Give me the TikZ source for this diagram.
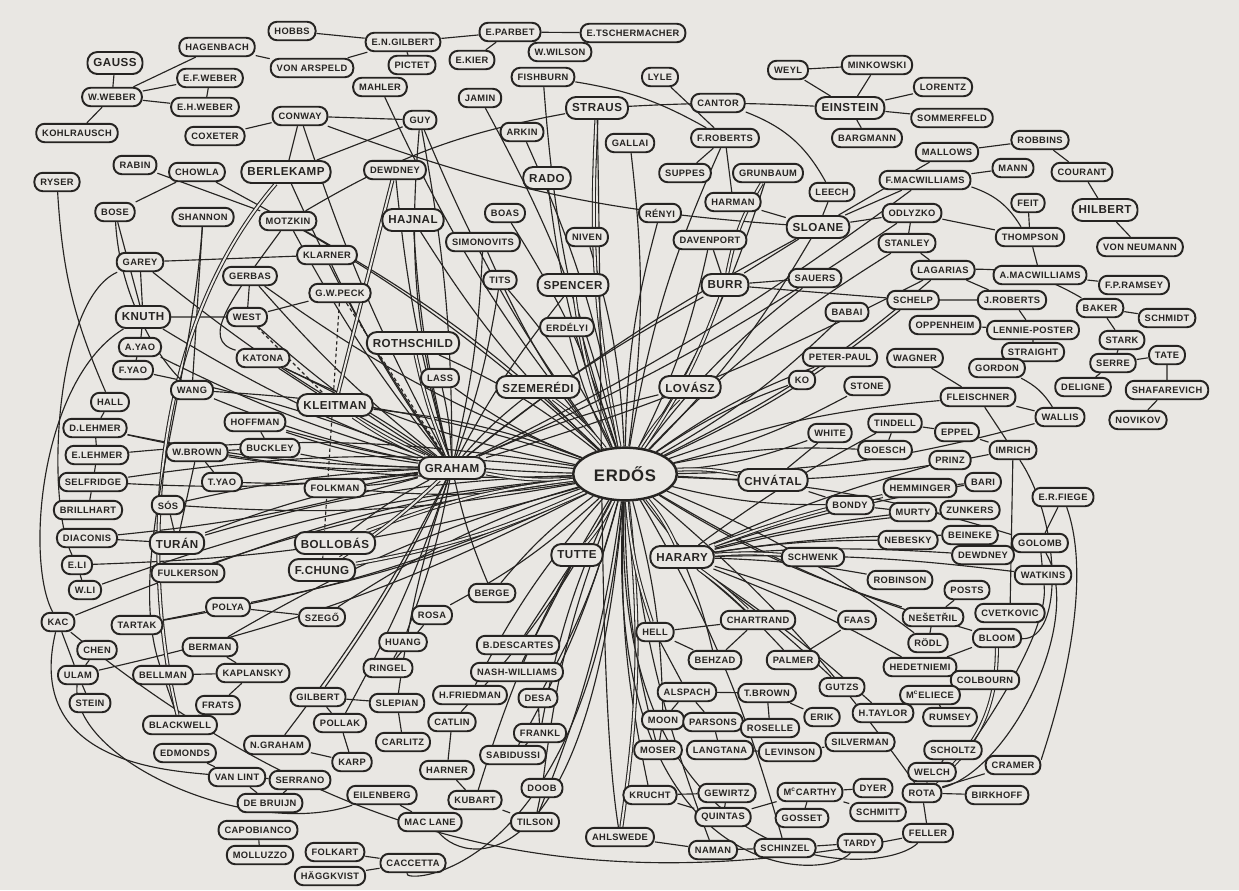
\documentclass[tikz,border=0pt]{standalone}
\usepackage{fontspec}
\newfontfamily\handfont[LetterSpace=4.0]{Liberation Sans}
\usetikzlibrary{shapes.geometric, backgrounds}

\definecolor{paper}{RGB}{233,231,227}
\definecolor{ink}{RGB}{38,36,34}

\tikzset{
  pn/.style={rectangle, rounded corners=4.8pt, draw=ink, line width=1.1pt, fill=paper, text=ink,
    font=\handfont\bfseries\fontsize{5.3}{6}\selectfont, inner xsep=3.4pt, inner ysep=2pt, minimum height=10.5pt},
  pb/.style={pn, rounded corners=5.6pt, font=\handfont\bfseries\fontsize{6.6}{7.5}\selectfont, minimum height=12.5pt},
  hub/.style={ellipse, draw=ink, line width=1.4pt, fill=paper, text=ink, inner sep=0pt,
    font=\handfont\bfseries\fontsize{9.5}{11}\selectfont, minimum width=59pt, minimum height=30pt},
  edge/.style={draw=ink, line width=0.65pt},
  bundle/.style={draw=ink, line width=0.6pt, double=paper, double distance=1.1pt},
  faint/.style={edge, dash pattern=on 2pt off 1.6pt},
}

\begin{document}
\begin{tikzpicture}[x=0.02cm, y=-0.02cm]
  \useasboundingbox (0,0) rectangle (1239,890);

  % Gauss -- Weber corner
  \node[pb] (gauss) at (115,63) {GAUSS};
  \node[pn] (wweber) at (112,97) {W.WEBER};
  \node[pn] (kohl) at (77,133) {KOHLRAUSCH};
  \node[pn] (hagen) at (217,47) {HAGENBACH};
  \node[pn] (efweber) at (210,78) {E.F.WEBER};
  \node[pn] (ehweber) at (205,107) {E.H.WEBER};
  \node[pn] (hobbs) at (292,31) {HOBBS};
  \node[pn] (vonarn) at (312,68) {VON ARSPELD};
  \node[pn] (engilbert) at (403,42) {E.N.GILBERT};
  \node[pn] (pictet) at (412,65) {PICTET};
  \node[pn] (ekier) at (472,60) {E.KIER};
  \node[pn] (parbet) at (510,32) {E.PARBET};
  \node[pn] (wwilson) at (560,52) {W.WILSON};
  \node[pn] (tscher) at (633,33) {E.TSCHERMACHER};

  % top middle
  \node[pn] (fishburn) at (543,77) {FISHBURN};
  \node[pn] (mahler) at (380,87) {MAHLER};
  \node[pn] (jamin) at (480,98) {JAMIN};
  \node[pn] (conway) at (300,116) {CONWAY};
  \node[pn] (guy) at (420,120) {GUY};
  \node[pb] (straus) at (597,108) {STRAUS};
  \node[pn] (arkin) at (522,132) {ARKIN};
  \node[pn] (coxeter) at (215,136) {COXETER};
  \node[pn] (rabin) at (135,165) {RABIN};
  \node[pn] (chowla) at (197,172) {CHOWLA};
  \node[pb] (berlekamp) at (286,172) {BERLEKAMP};
  \node[pn] (ryser) at (57,182) {RYSER};
  \node[pn] (bose) at (115,212) {BOSE};
  \node[pn] (shannon) at (203,217) {SHANNON};
  \node[pn] (motzkin) at (288,221) {MOTZKIN};
  \node[pn] (dewtop) at (395,170) {DEWDNEY};
  \node[pb] (rado) at (547,178) {RADO};
  \node[pn] (boas) at (505,213) {BOAS};
  \node[pb] (hajnal) at (413,220) {HAJNAL};
  \node[pn] (niven) at (587,237) {NIVEN};
  \node[pn] (simonovits) at (483,242) {SIMONOVITS};
  \node[pn] (klarner) at (327,255) {KLARNER};
  \node[pn] (tits) at (500,280) {TITS};
  \node[pb] (spencer) at (573,285) {SPENCER};
  \node[pn] (gwpeck) at (340,293) {G.W.PECK};
  \node[pn] (garey) at (140,262) {GAREY};
  \node[pn] (gerbas) at (250,276) {GERBAS};

  % top right
  \node[pn] (lyle) at (660,77) {LYLE};
  \node[pn] (cantor) at (718,103) {CANTOR};
  \node[pn] (weyl) at (788,70) {WEYL};
  \node[pn] (minkowski) at (877,65) {MINKOWSKI};
  \node[pb] (einstein) at (850,108) {EINSTEIN};
  \node[pn] (lorentz) at (943,87) {LORENTZ};
  \node[pn] (sommerfeld) at (952,118) {SOMMERFELD};
  \node[pn] (bargmann) at (867,138) {BARGMANN};
  \node[pn] (froberts) at (725,138) {F.ROBERTS};
  \node[pn] (gallai) at (630,143) {GALLAI};
  \node[pn] (suppes) at (685,173) {SUPPES};
  \node[pn] (grunbaum) at (768,173) {GRUNBAUM};
  \node[pn] (leech) at (832,192) {LEECH};
  \node[pn] (harman) at (733,202) {HARMAN};
  \node[pn] (renyi) at (660,213) {RÉNYI};
  \node[pb] (sloane) at (818,227) {SLOANE};
  \node[pn] (davenport) at (710,240) {DAVENPORT};
  \node[pb] (burr) at (725,285) {BURR};
  \node[pn] (sauers) at (815,278) {SAUERS};
  \node[pn] (fmacw) at (925,180) {F.MACWILLIAMS};
  \node[pn] (odlyzko) at (912,213) {ODLYZKO};
  \node[pn] (stanley) at (907,243) {STANLEY};
  \node[pn] (mallows) at (947,152) {MALLOWS};
  \node[pn] (robbins) at (1040,140) {ROBBINS};
  \node[pn] (mann) at (1013,168) {MANN};
  \node[pn] (courant) at (1082,172) {COURANT};
  \node[pn] (feit) at (1028,203) {FEIT};
  \node[pb] (hilbert) at (1105,210) {HILBERT};
  \node[pn] (thompson) at (1030,237) {THOMPSON};
  \node[pn] (vonneumann) at (1140,247) {VON NEUMANN};
  \node[pn] (lagarias) at (943,270) {LAGARIAS};
  \node[pn] (amacw) at (1040,275) {A.MACWILLIAMS};
  \node[pn] (fpramsey) at (1134,285) {F.P.RAMSEY};

  % left side
  \node[pb] (knuth) at (143,317) {KNUTH};
  \node[pn] (west) at (247,317) {WEST};
  \node[pn] (ayao) at (140,347) {A.YAO};
  \node[pn] (fyao) at (133,370) {F.YAO};
  \node[pn] (katona) at (263,358) {KATONA};
  \node[pn] (wang) at (192,390) {WANG};
  \node[pn] (hall) at (110,402) {HALL};
  \node[pn] (dlehmer) at (95,428) {D.LEHMER};
  \node[pn] (hoffman) at (255,422) {HOFFMAN};
  \node[pn] (elehmer) at (97,455) {E.LEHMER};
  \node[pn] (wbrown) at (197,452) {W.BROWN};
  \node[pn] (buckley) at (270,448) {BUCKLEY};
  \node[pn] (selfridge) at (93,482) {SELFRIDGE};
  \node[pn] (tyao) at (222,482) {T.YAO};
  \node[pn] (sos) at (168,505) {SÓS};
  \node[pn] (brillhart) at (88,510) {BRILLHART};
  \node[pn] (diaconis) at (87,538) {DIACONIS};
  \node[pb] (turan) at (177,543) {TURÁN};
  \node[pn] (eli) at (77,565) {E.LI};
  \node[pn] (fulkerson) at (188,573) {FULKERSON};

  % centre
  \node[pn] (erdelyi) at (567,327) {ERDÉLYI};
  \node[pb] (rothschild) at (413,343) {ROTHSCHILD};
  \node[pn] (lass) at (440,378) {LASS};
  \node[pb] (szemeredi) at (538,387) {SZEMERÉDI};
  \node[pb] (kleitman) at (335,405) {KLEITMAN};
  \node[pb] (graham) at (452,468) {GRAHAM};
  \node[hub] (erdos) at (625,474) {ERDŐS};
  \node[pn] (folkman) at (335,488) {FOLKMAN};
  \node[pb] (bollobas) at (335,543) {BOLLOBÁS};
  \node[pb] (tutte) at (577,555) {TUTTE};
  \node[pb] (fchung) at (322,570) {F.CHUNG};

  % right of Erdos
  \node[pn] (babai) at (847,312) {BABAI};
  \node[pn] (peter) at (840,357) {PETER-PAUL};
  \node[pn] (ko) at (802,380) {KO};
  \node[pn] (stone) at (867,386) {STONE};
  \node[pb] (lovasz) at (690,387) {LOVÁSZ};
  \node[pn] (white) at (830,433) {WHITE};
  \node[pn] (tindell) at (895,423) {TINDELL};
  \node[pn] (boesch) at (885,450) {BOESCH};
  \node[pb] (chvatal) at (773,480) {CHVÁTAL};
  \node[pn] (bondy) at (850,505) {BONDY};
  \node[pn] (hemminger) at (920,488) {HEMMINGER};
  \node[pn] (murty) at (913,512) {MURTY};
  \node[pn] (nebesky) at (908,540) {NEBESKY};
  \node[pb] (harary) at (682,557) {HARARY};
  \node[pn] (schwenk) at (813,557) {SCHWENK};
  \node[pn] (robinson) at (900,580) {ROBINSON};

  % far right
  \node[pn] (schelp) at (913,300) {SCHELP};
  \node[pn] (jroberts) at (1012,300) {J.ROBERTS};
  \node[pn] (baker) at (1100,308) {BAKER};
  \node[pn] (schmidt) at (1167,318) {SCHMIDT};
  \node[pn] (oppenheim) at (945,325) {OPPENHEIM};
  \node[pn] (lennie) at (1033,330) {LENNIE-POSTER};
  \node[pn] (stark) at (1122,340) {STARK};
  \node[pn] (straight) at (1033,352) {STRAIGHT};
  \node[pn] (tate) at (1167,355) {TATE};
  \node[pn] (wagner) at (915,358) {WAGNER};
  \node[pn] (serre) at (1113,363) {SERRE};
  \node[pn] (gordon) at (997,368) {GORDON};
  \node[pn] (deligne) at (1083,387) {DELIGNE};
  \node[pn] (shafarevich) at (1167,390) {SHAFAREVICH};
  \node[pn] (fleischner) at (978,397) {FLEISCHNER};
  \node[pn] (wallis) at (1060,417) {WALLIS};
  \node[pn] (novikov) at (1138,420) {NOVIKOV};
  \node[pn] (eppel) at (957,432) {EPPEL};
  \node[pn] (imrich) at (1013,450) {IMRICH};
  \node[pn] (prinz) at (950,460) {PRINZ};
  \node[pn] (bari) at (983,482) {BARI};
  \node[pn] (efiege) at (1063,497) {E.R.FIEGE};
  \node[pn] (zunkers) at (970,510) {ZUNKERS};
  \node[pn] (beineke) at (970,535) {BEINEKE};
  \node[pn] (golomb) at (1040,543) {GOLOMB};
  \node[pn] (dewdney) at (983,555) {DEWDNEY};
  \node[pn] (watkins) at (1043,575) {WATKINS};

  % lower left
  \node[pn] (wli) at (85,590) {W.LI};
  \node[pn] (polya) at (228,607) {POLYA};
  \node[pn] (kac) at (58,622) {KAC};
  \node[pn] (tartak) at (137,625) {TARTAK};
  \node[pn] (chen) at (97,650) {CHEN};
  \node[pn] (berman) at (210,647) {BERMAN};
  \node[pn] (ulam) at (78,675) {ULAM};
  \node[pn] (bellman) at (163,675) {BELLMAN};
  \node[pn] (kaplansky) at (253,673) {KAPLANSKY};
  \node[pn] (stein) at (90,703) {STEIN};
  \node[pn] (frats) at (218,705) {FRATS};
  \node[pn] (blackwell) at (180,725) {BLACKWELL};
  \node[pn] (ngraham) at (277,745) {N.GRAHAM};
  \node[pn] (edmonds) at (185,753) {EDMONDS};
  \node[pn] (vanlint) at (237,777) {VAN LINT};
  \node[pn] (serrano) at (300,780) {SERRANO};
  \node[pn] (debruijn) at (270,803) {DE BRUIJN};
  \node[pn] (capobianco) at (258,830) {CAPOBIANCO};
  \node[pn] (molluzzo) at (260,855) {MOLLUZZO};

  % lower middle
  \node[pn] (berge) at (492,593) {BERGE};
  \node[pn] (szego) at (322,617) {SZEGŐ};
  \node[pn] (rosa) at (432,615) {ROSA};
  \node[pn] (huang) at (403,642) {HUANG};
  \node[pn] (bdescartes) at (518,645) {B.DESCARTES};
  \node[pn] (ringel) at (388,668) {RINGEL};
  \node[pn] (nashwilliams) at (517,672) {NASH-WILLIAMS};
  \node[pn] (gilbert) at (318,697) {GILBERT};
  \node[pn] (slepian) at (397,703) {SLEPIAN};
  \node[pn] (hfriedman) at (470,695) {H.FRIEDMAN};
  \node[pn] (desa) at (538,698) {DESA};
  \node[pn] (pollak) at (340,723) {POLLAK};
  \node[pn] (catlin) at (452,722) {CATLIN};
  \node[pn] (frankl) at (540,733) {FRANKL};
  \node[pn] (carlitz) at (403,742) {CARLITZ};
  \node[pn] (sabidussi) at (513,755) {SABIDUSSI};
  \node[pn] (karp) at (352,762) {KARP};
  \node[pn] (harner) at (447,770) {HARNER};
  \node[pn] (doob) at (542,788) {DOOB};
  \node[pn] (eilenberg) at (382,795) {EILENBERG};
  \node[pn] (kubart) at (475,800) {KUBART};
  \node[pn] (maclane) at (430,822) {MAC LANE};
  \node[pn] (tilson) at (535,822) {TILSON};
  \node[pn] (folkart) at (335,852) {FOLKART};
  \node[pn] (caccetta) at (413,863) {CACCETTA};
  \node[pn] (haggkvist) at (330,876) {HÄGGKVIST};

  % lower right
  \node[pn] (chartrand) at (758,620) {CHARTRAND};
  \node[pn] (faas) at (857,620) {FAAS};
  \node[pn] (hell) at (655,632) {HELL};
  \node[pn] (behzad) at (715,660) {BEHZAD};
  \node[pn] (palmer) at (793,660) {PALMER};
  \node[pn] (alspach) at (687,692) {ALSPACH};
  \node[pn] (tbrown) at (767,693) {T.BROWN};
  \node[pn] (gutzs) at (842,687) {GUTZS};
  \node[pn] (moon) at (663,720) {MOON};
  \node[pn] (parsons) at (713,722) {PARSONS};
  \node[pn] (erik) at (822,717) {ERIK};
  \node[pn] (htaylor) at (883,713) {H.TAYLOR};
  \node[pn] (roselle) at (770,728) {ROSELLE};
  \node[pn] (moser) at (658,750) {MOSER};
  \node[pn] (langtana) at (720,750) {LANGTANA};
  \node[pn] (levinson) at (790,752) {LEVINSON};
  \node[pn] (silverman) at (860,742) {SILVERMAN};
  \node[pn] (krucht) at (650,795) {KRUCHT};
  \node[pn] (gewirtz) at (727,793) {GEWIRTZ};
  \node[pn] (mccarthy) at (810,792) {M\textsuperscript{c}CARTHY};
  \node[pn] (dyer) at (873,788) {DYER};
  \node[pn] (quintas) at (723,817) {QUINTAS};
  \node[pn] (gosset) at (802,818) {GOSSET};
  \node[pn] (schmitt) at (878,812) {SCHMITT};
  \node[pn] (ahlswede) at (620,837) {AHLSWEDE};
  \node[pn] (naman) at (713,850) {NAMAN};
  \node[pn] (schinzel) at (785,848) {SCHINZEL};
  \node[pn] (tardy) at (860,843) {TARDY};
  \node[pn] (posts) at (967,590) {POSTS};
  \node[pn] (cvetkovic) at (1010,613) {CVETKOVIC};
  \node[pn] (nesetril) at (933,617) {NEŠETŘIL};
  \node[pn] (bloom) at (997,638) {BLOOM};
  \node[pn] (rodl) at (928,643) {RÖDL};
  \node[pn] (hedetniemi) at (920,667) {HEDETNIEMI};
  \node[pn] (colbourn) at (985,680) {COLBOURN};
  \node[pn] (mceliece) at (930,695) {M\textsuperscript{c}ELIECE};
  \node[pn] (rumsey) at (950,717) {RUMSEY};
  \node[pn] (scholtz) at (953,750) {SCHOLTZ};
  \node[pn] (welch) at (932,772) {WELCH};
  \node[pn] (cramer) at (1013,765) {CRAMER};
  \node[pn] (rota) at (922,793) {ROTA};
  \node[pn] (birkhoff) at (997,795) {BIRKHOFF};
  \node[pn] (feller) at (928,833) {FELLER};

  \begin{scope}[on background layer]
    \fill[paper] (0,0) rectangle (1239,890);

    % Erdos fan
    \foreach \b in {straus, renyi, rado, spencer, simonovits, hajnal, mahler, erdelyi,
        lovasz, sauers, ko, peter, froberts, guy, graham, lass, folkman, fchung, sos,
        ulam, dlehmer, hoffman, katona, polya, tartak, eli, tutte, rosa, desa, sabidussi,
        tilson, ahlswede, schinzel, moon, harary, catlin, chvatal, fleischner, rodl,
        boesch, rota, golomb, stanley, gerbas, fishburn}
      \draw[edge] (erdos) to[bend left=7] (\b);
    \foreach \b in {gallai, davenport, niven, boas, tits, arkin, chowla, szemeredi,
        burr, babai, schelp, stone, grunbaum, jamin, motzkin, rothschild, kleitman,
        bollobas, selfridge, turan, kac, elehmer, wang, fulkerson, szego, berman, wli,
        berge, hfriedman, frankl, doob, kubart, naman, hell, moser, krucht, chartrand,
        bondy, nesetril, white, bloom, wallis, imrich, sloane, lagarias}
      \draw[edge] (erdos) to[bend right=7] (\b);
    % the thick bundles
    \foreach \b in {straus, graham, fchung, harary, lovasz, spencer, ahlswede, chvatal, tutte}
      \draw[bundle] (erdos) to[bend left=7] (\b);
    \foreach \b in {bollobas, burr, hell, szemeredi}
      \draw[bundle] (erdos) to[bend right=7] (\b);
    % the long bundle down the middle and round the bottom
    \draw[edge] (erdos) .. controls (600,880) and (820,885) .. (tardy);
    \draw[edge] (erdos) .. controls (610,885) and (880,880) .. (feller);
    \draw[edge] (erdos) .. controls (592,875) and (470,870) .. (maclane);
    \draw[edge] (erdos) .. controls (588,880) and (400,885) .. (caccetta);
    \draw[edge] (straus) .. controls (603,400) and (598,700) .. (ahlswede);

    % Graham fan
    \foreach \b in {rothschild, spencer, fchung, kleitman, folkman, pollak, ayao, knuth,
        selfridge, diaconis, dlehmer, berlekamp, conway, garey, klarner, west, wang,
        hoffman, buckley, wbrown, tyao, szemeredi, hajnal, sloane, gilbert, ngraham,
        huang, lovasz, burr, dewtop, motzkin, gerbas}
      \draw[edge] (graham) to[bend left=5] (\b);
    \foreach \b in {fyao, guy, lass, simonovits, fmacw, slepian, berge, tits, katona,
        bollobas, odlyzko, lagarias, sos, turan}
      \draw[edge] (graham) to[bend right=5] (\b);
    \foreach \b in {kleitman, rothschild, fchung}
      \draw[bundle] (graham) to[bend left=5] (\b);
    \draw[faint] (gwpeck) -- (graham);
    \draw[faint] (gwpeck) -- (fchung);
    \draw[faint] (west) -- (kleitman);

    % Gauss, Weber and the top row
    \draw[edge] (gauss) -- (wweber) -- (kohl);
    \draw[edge] (wweber) -- (efweber) -- (ehweber) -- (wweber);
    \draw[edge] (wweber) -- (hagen) -- (vonarn) -- (engilbert) -- (hobbs);
    \draw[edge] (pictet) -- (engilbert) -- (parbet) -- (ekier);
    \draw[edge] (wwilson) -- (parbet) -- (tscher);
    \draw[edge] (coxeter) -- (conway) -- (guy) -- (berlekamp) -- (conway);
    \draw[edge] (conway) to[bend right=8] (sloane);
    \draw[edge] (fishburn) to[bend left=10] (froberts);
    \draw[edge] (lyle) -- (froberts) -- (suppes);
    \draw[edge] (froberts) -- (harman) -- (sloane);
    \draw[edge] (cantor) to[bend left=20] (leech);
    \draw[edge] (straus) to[bend left=3] (einstein);
    \draw[edge] (weyl) -- (minkowski) -- (einstein) -- (weyl);
    \draw[edge] (lorentz) -- (einstein) -- (sommerfeld);
    \draw[edge] (einstein) -- (bargmann);
    \draw[edge] (leech) -- (sloane) -- (odlyzko) -- (stanley) -- (lagarias);
    \draw[edge] (sloane) -- (mallows) -- (robbins) -- (courant) -- (hilbert) -- (vonneumann);
    \draw[edge] (sloane) -- (fmacw) -- (mann);
    \draw[edge] (fmacw) to[bend left=20] (thompson);
    \draw[edge] (feit) -- (thompson) -- (amacw);
    \draw[edge] (thompson) -- (odlyzko);
    \draw[bundle] (grunbaum) to[bend right=10] (burr);
    \draw[edge] (sloane) -- (burr) -- (davenport);
    \draw[edge] (sauers) -- (burr) -- (schelp) -- (jroberts);
    \draw[edge] (lagarias) -- (jroberts) -- (lennie) -- (straight) -- (gordon);
    \draw[edge] (amacw) -- (fpramsey);
    \draw[edge] (oppenheim) -- (lennie);
    \draw[edge] (baker) -- (schmidt);
    \draw[edge] (baker) -- (stark) -- (serre) -- (tate) -- (shafarevich) -- (novikov);
    \draw[edge] (serre) -- (deligne);
    \draw[edge] (baker) to[bend right=15] (lagarias);
    \draw[edge] (gordon) to[bend left=15] (wallis);
    \draw[edge] (wagner) -- (fleischner) -- (wallis);
    \draw[edge] (fleischner) -- (imrich) -- (eppel) -- (tindell) -- (boesch);
    \draw[edge] (imrich) -- (cvetkovic);
    \draw[edge] (golomb) -- (efiege);
    \draw[edge] (golomb) -- (watkins);
    \draw[edge] (bari) -- (hemminger);
    \draw[edge] (murty) -- (bondy) -- (chvatal) -- (white);
    \draw[edge] (beineke) -- (dewdney);
    \draw[edge] (motzkin) to[bend left=10] (straus);
    \draw[edge] (guy) to[bend right=10] (graham);

    % Harary and friends
    \foreach \b in {schwenk, robinson, palmer, chartrand, behzad, hedetniemi, beineke,
        hemminger, nebesky, zunkers, prinz, tindell, dewdney, watkins, faas, gutzs,
        htaylor, bari, murty}
      \draw[edge] (harary) to[bend left=4] (\b);
    \foreach \b in {schwenk, hemminger, chartrand}
      \draw[bundle] (harary) to[bend left=4] (\b);
    \draw[edge] (posts) -- (nesetril) -- (rodl);
    \draw[edge] (bloom) -- (hedetniemi) -- (colbourn);
    \draw[bundle] (bloom) to[bend left=25] (rota);
    \draw[edge] (mceliece) -- (rumsey);
    \draw[edge] (mceliece) -- (htaylor);
    \draw[edge] (scholtz) -- (welch) -- (rota) -- (birkhoff);
    \draw[edge] (cramer) -- (rota) -- (feller);
    \draw[edge] (chartrand) -- (hell) -- (behzad) -- (chartrand);
    \draw[edge] (faas) -- (palmer);
    \draw[edge] (hell) -- (alspach) -- (tbrown) -- (erik);
    \draw[edge] (moser) -- (moon) -- (alspach) -- (parsons) -- (langtana);
    \draw[edge] (tbrown) -- (roselle);
    \draw[edge] (langtana) -- (levinson) -- (silverman);
    \draw[edge] (krucht) -- (gewirtz) -- (quintas) -- (krucht);
    \draw[edge] (quintas) -- (mccarthy) -- (gosset);
    \draw[edge] (dyer) -- (mccarthy) -- (schmitt);
    \draw[edge] (ahlswede) -- (naman) -- (schinzel) -- (tardy);
    % outer lines on the right
    \draw[edge] (golomb) .. controls (1085,620) and (1010,770) .. (rota);
    \draw[edge] (efiege) .. controls (1100,600) and (1040,760) .. (cramer);
    \draw[edge] (imrich) .. controls (1060,520) and (1065,640) .. (bloom);
    \draw[edge] (watkins) .. controls (1050,640) and (960,760) .. (scholtz);

    % left side
    \draw[edge] (rabin) -- (motzkin);
    \draw[edge] (chowla) -- (bose) -- (knuth) -- (garey) -- (klarner);
    \draw[edge] (ryser) to[bend right=10] (hall);
    \draw[edge] (shannon) -- (wang);
    \draw[edge] (knuth) -- (ayao) -- (fyao);
    \draw[edge] (gerbas) -- (west) -- (knuth);
    \draw[edge] (gwpeck) -- (west);
    \draw[edge] (katona) -- (kleitman);
    \draw[bundle] (dewtop) -- (kleitman);
    \draw[edge] (hall) -- (dlehmer) -- (elehmer) -- (selfridge) -- (brillhart);
    \draw[edge] (hoffman) -- (buckley) -- (wbrown) -- (tyao);
    \draw[edge] (wbrown) -- (turan) -- (sos);
    \draw[edge] (diaconis) -- (turan);
    \draw[edge] (eli) -- (wli);
    \draw[edge] (kac) -- (ulam) -- (stein);
    \draw[edge] (chen) -- (ulam);
    \draw[edge] (kac) to[bend right=25] (feller);
    \draw[edge] (tartak) -- (polya) -- (szego);
    \draw[edge] (berman) -- (kaplansky);
    \draw[edge] (bellman) -- (blackwell) -- (frats) -- (kaplansky) -- (bellman);
    \draw[edge] (ngraham) -- (karp) -- (pollak) -- (gilbert) -- (slepian) -- (carlitz);
    \draw[edge] (edmonds) -- (vanlint) -- (debruijn) -- (serrano) -- (vanlint);
    \draw[edge] (capobianco) -- (molluzzo);
    \draw[edge] (folkart) -- (caccetta) -- (haggkvist);
    \draw[edge] (eilenberg) -- (maclane);
    \draw[edge] (catlin) -- (harner) -- (kubart) -- (tilson) -- (doob);
    \draw[edge] (huang) -- (ringel) -- (rosa);
    \draw[edge] (desa) -- (frankl) -- (sabidussi);
    \draw[edge] (bdescartes) -- (tutte) -- (nashwilliams);
    % outer lines on the left
    \draw[edge] (knuth) .. controls (40,380) and (25,560) .. (kac);
    \draw[edge] (garey) .. controls (55,300) and (45,500) .. (eli);
    \draw[edge] (kac) .. controls (25,760) and (160,770) .. (vanlint);
    \draw[edge] (ulam) .. controls (70,760) and (250,840) .. (eilenberg);
    \draw[bundle] (berlekamp) .. controls (150,330) and (140,560) .. (blackwell);
    \draw[edge] (shannon) .. controls (190,400) and (125,560) .. (bellman);
    \draw[edge] (bose) .. controls (120,300) and (160,360) .. (wang);
    \draw[edge] (motzkin) .. controls (230,300) and (200,340) .. (katona);
  \end{scope}
\end{tikzpicture}
\end{document}
